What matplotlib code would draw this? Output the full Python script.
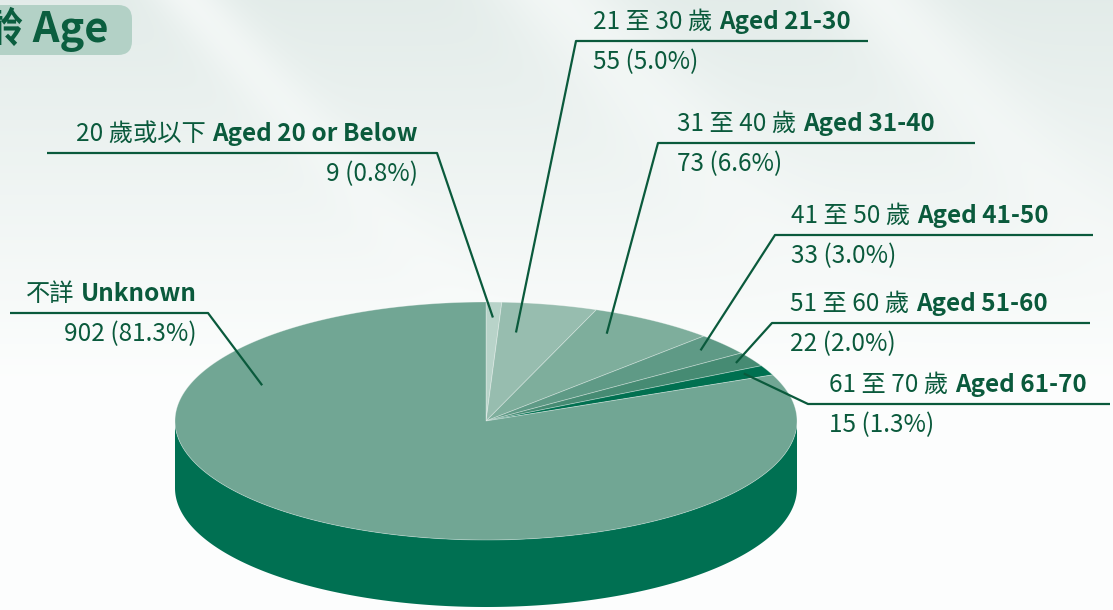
import numpy as np
import matplotlib.pyplot as plt
from matplotlib.patches import Polygon, FancyBboxPatch

plt.rcParams['font.family'] = ['Noto Sans CJK TC', 'DejaVu Sans']

# Data
groups_zh = ['20 歲或以下', '21 至 30 歲', '31 至 40 歲', '41 至 50 歲',
             '51 至 60 歲', '61 至 70 歲', '不詳']
groups_en = ['Aged 20 or Below', 'Aged 21-30', 'Aged 31-40', 'Aged 41-50',
             'Aged 51-60', 'Aged 61-70', 'Unknown']
counts = [9, 55, 73, 33, 22, 15, 902]
pct_text = ['0.8%', '5.0%', '6.6%', '3.0%', '2.0%', '1.3%', '81.3%']

# Style
top_colors = ['#B8D3C9', '#97BDAF', '#7EAE9C', '#5F9A86', '#468B73', '#007050', '#71A694']
side_color = '#007052'
ink = '#0A5A3C'

W, H = 1113, 610
fig = plt.figure(figsize=(W / 100, H / 100), dpi=100)
ax = fig.add_axes([0, 0, 1, 1])
ax.set_xlim(0, W)
ax.set_ylim(H, 0)
ax.axis('off')

# background: pale green-grey at top fading to white, with soft streaks
yy, xx = np.mgrid[0:H, 0:W]
t = np.clip(yy / 380.0, 0, 1)
base = np.array([0.89, 0.925, 0.915])
white = np.array([0.99, 0.995, 0.993])
bg = base[None, None, :] * (1 - t[..., None]) + white[None, None, :] * t[..., None]
for x0, wdt in [(190, 40), (560, 70), (880, 60)]:
    d = (xx - x0 - yy * 0.9)
    band = np.exp(-(d / wdt) ** 2) * (1 - t) * 0.6
    bg = bg + (white - bg) * band[..., None]
ax.imshow(bg, extent=(0, W, H, 0), zorder=0, aspect='auto')

# pie geometry (pixels)
cx, cy, a, b, depth = 486, 421, 311, 119, 67


def pt(theta, r=1.0):
    th = np.radians(theta)
    return cx + a * r * np.sin(th), cy - b * r * np.cos(th)


total = sum(counts)
edges = np.concatenate([[0], np.cumsum(counts)]) / total * 360

# front side
th = np.linspace(90, 270, 300)
sx, sy = pt(th)
side = np.column_stack([np.concatenate([sx, sx[::-1]]),
                        np.concatenate([sy, sy[::-1] + depth])])
ax.add_patch(Polygon(side, closed=True, fc=side_color, ec='none', zorder=2))

# top wedges
for i in range(len(counts)):
    th = np.linspace(edges[i], edges[i + 1], max(int(edges[i + 1] - edges[i]) * 2, 4))
    wx, wy = pt(th)
    poly = np.column_stack([np.concatenate([[cx], wx]), np.concatenate([[cy], wy])])
    ax.add_patch(Polygon(poly, closed=True, fc=top_colors[i],
                         ec=(1, 1, 1, 0.35), lw=0.6, zorder=3))

# labels: elbow point, end of horizontal line, text x, alignment
elbows = [(437, 153), (576, 41), (658, 143), (775, 235), (772, 323), (808, 404), (208, 313)]
line_end = [47, 868, 975, 1093, 1090, 1110, 10]
text_x = [418, 593, 677, 791, 790, 829, 197]
align = ['right', 'left', 'left', 'left', 'left', 'left', 'right']
anchor_frac = [0.5, 0.25, 0.3, 0.45, 0.5, 0.4, 0.77]
anchor_r = [0.87, 0.75, 0.83, 0.91, 0.94, 0.92, 0.78]

fs = 17.5
fig.canvas.draw()
rend = fig.canvas.get_renderer()

for i in range(len(counts)):
    ang = edges[i] + anchor_frac[i] * (edges[i + 1] - edges[i])
    px, py = pt(ang, anchor_r[i])
    ex, ey = elbows[i]
    ax.plot([px, ex, line_end[i]], [py, ey, ey], color=ink, lw=1.6,
            solid_capstyle='butt', zorder=4)
    yb = ey - 12
    if align[i] == 'left':
        t1 = ax.text(text_x[i], yb, groups_zh[i], fontsize=fs, color=ink,
                     ha='left', va='baseline', zorder=5)
        bb = t1.get_window_extent(rend)
        ax.text(bb.x1 + 7, yb, groups_en[i], fontsize=fs, color=ink,
                fontweight='bold', ha='left', va='baseline', zorder=5)
    else:
        t1 = ax.text(text_x[i], yb, groups_en[i], fontsize=fs, color=ink,
                     fontweight='bold', ha='right', va='baseline', zorder=5)
        bb = t1.get_window_extent(rend)
        ax.text(bb.x0 - 7, yb, groups_zh[i], fontsize=fs, color=ink,
                ha='right', va='baseline', zorder=5)
    ax.text(text_x[i], ey + 28, f'{counts[i]} ({pct_text[i]})', fontsize=fs,
            color=ink, ha=align[i], va='baseline', zorder=5)

# title tab, cut at the left edge
ax.add_patch(FancyBboxPatch((-40, 5), 172, 50,
                            boxstyle='round,pad=0,rounding_size=14',
                            fc='#B3D1C6', ec='none', zorder=5))
ax.text(108, 42, '年齡 Age', fontsize=30, fontweight='bold', color='#0B5E3F',
        ha='right', va='baseline', zorder=6)

fig.savefig('out.png', dpi=100)
